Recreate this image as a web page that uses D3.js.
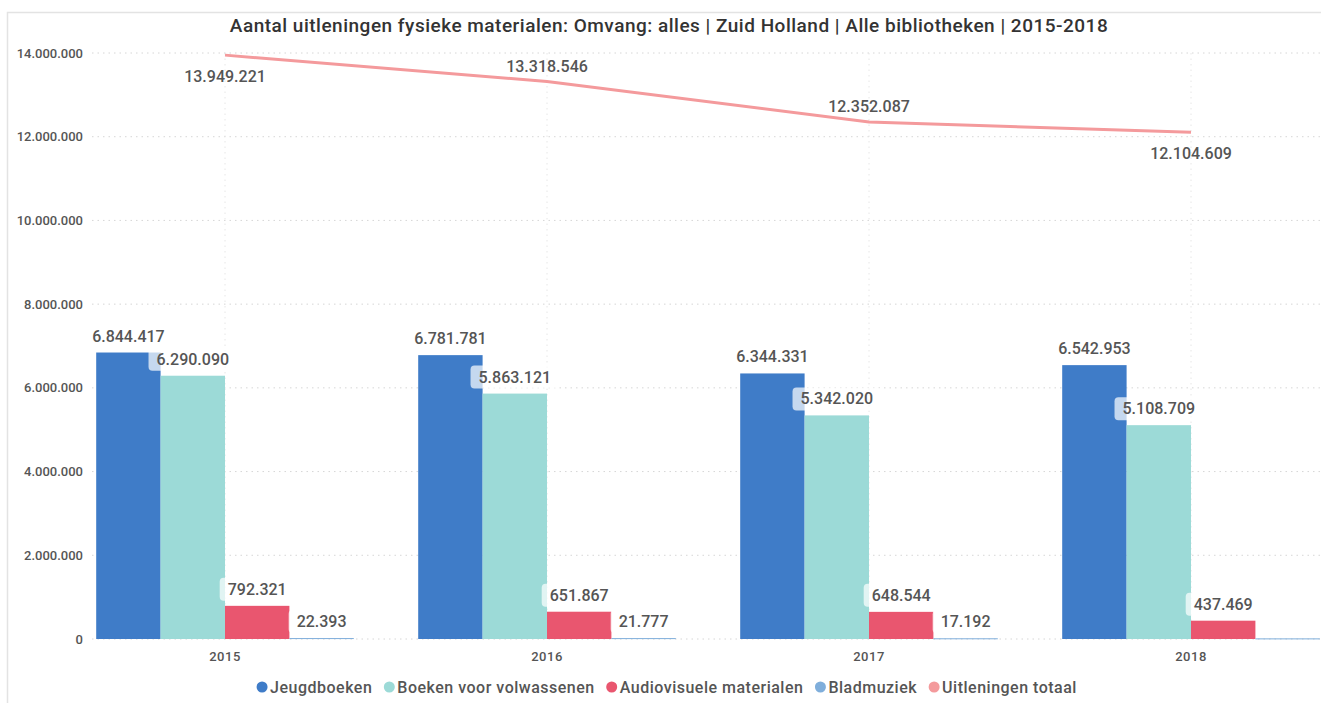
<!DOCTYPE html>
<html>
<head>
<meta charset="utf-8">
<script src="https://cdn.jsdelivr.net/npm/d3@7"></script>
<style>
  body { margin: 0; background: #fff; }
  svg { display: block; font-family: Roboto, "DejaVu Sans", sans-serif; }
</style>
</head>
<body>
<svg id="chart" width="1321" height="703"></svg>
<script>
// data
const years = ["2015", "2016", "2017", "2018"];
const seriesNames = ["Jeugdboeken", "Boeken voor volwassenen", "Audiovisuele materialen", "Bladmuziek"];
const jeugdboeken = [6844417, 6781781, 6344331, 6542953];
const volwassenen = [6290090, 5863121, 5342020, 5108709];
const audiovisueel = [792321, 651867, 648544, 437469];
const bladmuziek = [22393, 21777, 17192, 15000];
const totaal = [13949221, 13318546, 12352087, 12104609];
const yTicks = [0, 2000000, 4000000, 6000000, 8000000, 10000000, 12000000, 14000000];

const barColors = ["#3F7CC8", "#9CDAD7", "#E9566F", "#7FAEDB"];
const lineColor = "#F49A9C";
const W = 1321, H = 703;

const svg = d3.select("#chart");
const fmt = v => d3.format(",")(v).replace(/,/g, ".");

const barData = [jeugdboeken, volwassenen, audiovisueel, bladmuziek];

// scales
const y = d3.scaleLinear().domain([0, 14000000]).range([639, 53]);
const x0 = d3.scaleBand().domain(years).range([64, 1352]).paddingInner(0.2).paddingOuter(0.1);
const x1 = d3.scaleBand().domain(d3.range(4)).range([0, x0.bandwidth()]);

// frame
svg.append("rect").attr("x", 7.5).attr("y", 12.5).attr("width", 1400).attr("height", 800)
  .attr("fill", "none").attr("stroke", "#e3e3e3").attr("stroke-width", 1.5);

// gridlines
svg.append("g").selectAll("line").data(yTicks).enter().append("line")
  .attr("x1", 92).attr("x2", W)
  .attr("y1", d => y(d)).attr("y2", d => y(d))
  .attr("stroke", "#d6d6d6").attr("stroke-dasharray", "1.5,4");

svg.append("g").selectAll("line").data(years).enter().append("line")
  .attr("x1", d => x0(d) + x0.bandwidth() / 2).attr("x2", d => x0(d) + x0.bandwidth() / 2)
  .attr("y1", 53).attr("y2", 639)
  .attr("stroke", "#e6e6e6").attr("stroke-dasharray", "1.5,4");

// y axis labels
svg.append("g").selectAll("text").data(yTicks).enter().append("text")
  .attr("x", 83).attr("y", d => y(d) + 4.5)
  .attr("text-anchor", "end")
  .attr("font-size", 13).attr("font-weight", 500).attr("fill", "#555")
  .text(d => fmt(d));

// x axis labels
svg.append("g").selectAll("text").data(years).enter().append("text")
  .attr("x", d => x0(d) + x0.bandwidth() / 2).attr("y", 661)
  .attr("text-anchor", "middle")
  .attr("font-size", 13).attr("font-weight", 500).attr("fill", "#555")
  .attr("letter-spacing", 0.5)
  .text(d => d);

// bars
const groups = svg.append("g").selectAll("g").data(years).enter().append("g")
  .attr("transform", d => "translate(" + x0(d) + ",0)");

groups.selectAll("rect").data((d, i) => barData.map((s, k) => ({k: k, v: s[i]}))).enter().append("rect")
  .attr("x", d => x1(d.k))
  .attr("width", x1.bandwidth())
  .attr("y", d => y(d.v))
  .attr("height", d => Math.max(1, 639 - y(d.v)))
  .attr("fill", d => barColors[d.k]);

// total line
const line = d3.line()
  .x((d, i) => x0(years[i]) + x0.bandwidth() / 2)
  .y(d => y(d));

svg.append("path").datum(totaal)
  .attr("d", line)
  .attr("fill", "none")
  .attr("stroke", lineColor).attr("stroke-width", 3);

// data labels with soft background boxes
const labelLayer = svg.append("g");
function addLabel(cx, baseY, txt) {
  const g = labelLayer.append("g");
  const bg = g.append("rect");
  const t = g.append("text")
    .attr("x", cx).attr("y", baseY)
    .attr("text-anchor", "middle")
    .attr("font-size", 16).attr("font-weight", 500).attr("fill", "#555")
    .text(txt);
  const bb = t.node().getBBox();
  bg.attr("x", bb.x - 8).attr("y", bb.y - 2)
    .attr("width", bb.width + 16).attr("height", bb.height + 4)
    .attr("rx", 4).attr("fill", "#fff").attr("fill-opacity", 0.7);
}

years.forEach((yr, i) => {
  barData.forEach((s, k) => {
    if (k === 3 && i === years.length - 1) return; // label falls outside the visual
    const cx = x0(yr) + x1(k) + x1.bandwidth() / 2;
    addLabel(cx, y(s[i]) - 11, fmt(s[i]));
  });
});

totaal.forEach((v, i) => {
  const cx = x0(years[i]) + x0.bandwidth() / 2;
  const below = (i === 0 || i === totaal.length - 1);
  labelLayer.append("text")
    .attr("x", cx).attr("y", below ? y(v) + 27 : y(v) - 10)
    .attr("text-anchor", "middle")
    .attr("font-size", 16).attr("font-weight", 500).attr("fill", "#555")
    .text(fmt(v));
});

// title
svg.append("text")
  .attr("x", 669).attr("y", 32)
  .attr("text-anchor", "middle")
  .attr("font-size", 19).attr("font-weight", 500).attr("fill", "#333")
  .attr("letter-spacing", 0.5)
  .text("Aantal uitleningen fysieke materialen: Omvang: alles | Zuid Holland | Alle bibliotheken | 2015-2018");

// legend
const legendNames = seriesNames.concat(["Uitleningen totaal"]);
const legendColors = barColors.concat([lineColor]);
const legend = svg.append("g");
let lx = 0;
legendNames.forEach((name, i) => {
  const g = legend.append("g").attr("transform", "translate(" + lx + ",0)");
  g.append("circle").attr("cx", 5).attr("cy", 0).attr("r", 5.5).attr("fill", legendColors[i]);
  const t = g.append("text").attr("x", 13).attr("y", 5.5)
    .attr("font-size", 16).attr("font-weight", 500).attr("fill", "#555")
    .attr("letter-spacing", 0.5).text(name);
  lx += 13 + t.node().getComputedTextLength() + 12;
});
const legW = lx - 12;
legend.attr("transform", "translate(" + (667 - legW / 2) + ",687)");
</script>
</body>
</html>
